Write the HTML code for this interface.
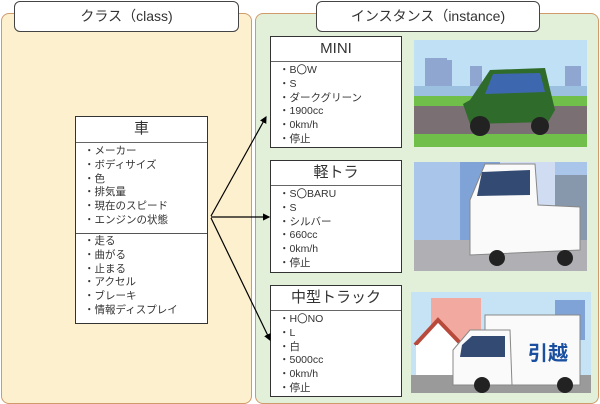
<!DOCTYPE html>
<html><head><meta charset="utf-8"><style>
body{margin:0;width:600px;height:404px;background:#fff;position:relative;overflow:hidden;font-family:"Liberation Sans","Noto Sans CJK JP",sans-serif;color:#333}
.abs{position:absolute;box-sizing:border-box}
.panel{border:1.5px solid #d09a6a;border-radius:8px}
.title{background:#fff;border:1.2px solid #444;border-radius:6px;text-align:center;font-size:14px;line-height:29px}
.box{background:#fff;border:1.3px solid #333}
.hd{text-align:center;font-size:15px;border-bottom:1.3px solid #666}
.ls{font-size:10.5px;line-height:13.8px;padding-left:8px;white-space:nowrap}
</style></head><body>
<div class="abs panel" style="left:1px;top:13px;width:251px;height:391px;background:#fdf0cf"></div>
<div class="abs panel" style="left:255px;top:13px;width:344px;height:391px;background:#e2efd9"></div>
<div class="abs title" style="left:14px;top:1px;width:225px;height:31px">クラス（class)</div>
<div class="abs title" style="left:316px;top:1px;width:224px;height:31px">インスタンス（instance)</div>

<div class="abs box" style="left:75px;top:116px;width:133px;height:208px">
<div class="hd" style="height:25px;line-height:24px">車</div>
<div class="ls" style="padding-top:2px;height:88px;border-bottom:1.3px solid #555">・メーカー<br>・ボディサイズ<br>・色<br>・排気量<br>・現在のスピード<br>・エンジンの状態</div>
<div class="ls" style="padding-top:1px">・走る<br>・曲がる<br>・止まる<br>・アクセル<br>・ブレーキ<br>・情報ディスプレイ</div>
</div>

<div class="abs box" style="left:270px;top:36px;width:132px;height:112px">
<div class="hd" style="height:24px;line-height:23px">MINI</div>
<div class="ls" style="padding-top:2px">・B〇W<br>・S<br>・ダークグリーン<br>・1900cc<br>・0km/h<br>・停止</div></div>
<div class="abs box" style="left:270px;top:160px;width:132px;height:113px">
<div class="hd" style="height:24px;line-height:23px">軽トラ</div>
<div class="ls" style="padding-top:2px">・S〇BARU<br>・S<br>・シルバー<br>・660cc<br>・0km/h<br>・停止</div></div>
<div class="abs box" style="left:270px;top:285px;width:132px;height:112px">
<div class="hd" style="height:24px;line-height:23px">中型トラック</div>
<div class="ls" style="padding-top:2px">・H〇NO<br>・L<br>・白<br>・5000cc<br>・0km/h<br>・停止</div></div>

<svg class="abs" style="left:0;top:0" width="600" height="404">
<defs><marker id="a" markerWidth="6" markerHeight="6" refX="5" refY="3" orient="auto"><path d="M0,0L6,3L0,6z" fill="#000"/></marker></defs>
<g stroke="#000" stroke-width="1.2" fill="none" marker-end="url(#a)">
<line x1="211" y1="216" x2="266" y2="117"/>
<line x1="211" y1="217" x2="269" y2="217"/>
<line x1="211" y1="218" x2="270" y2="340"/>
</g>
<!-- image 1 -->
<rect x="414" y="40" width="173" height="107" fill="#bfe0f5"/>
<rect x="425" y="58" width="22" height="30" fill="#8fa6d0"/><rect x="440" y="60" width="12" height="28" fill="#8fa6d0"/>
<rect x="470" y="66" width="12" height="22" fill="#8fa6d0"/><rect x="565" y="66" width="16" height="22" fill="#8fa6d0"/>
<rect x="414" y="86" width="173" height="12" fill="#9cc0e0"/>
<rect x="414" y="96" width="173" height="10" fill="#6fbf4a"/>
<rect x="414" y="106" width="173" height="30" fill="#7a6f72"/>
<rect x="414" y="134" width="173" height="13" fill="#6fbf4a"/>
<path d="M463,104 L470,100 L490,70 L545,68 L555,110 L548,122 L470,124 Z" fill="#2f6b2a"/>
<path d="M493,74 L540,73 L545,92 L485,94 Z" fill="#3d68b0"/>
<circle cx="480" cy="126" r="10" fill="#222"/><circle cx="540" cy="126" r="9" fill="#222"/>
<!-- image 2 -->
<rect x="414" y="162" width="173" height="109" fill="#a9c6ea"/>
<rect x="460" y="162" width="40" height="80" fill="#7fa3d6"/><rect x="500" y="162" width="55" height="80" fill="#cfdcf2"/>
<rect x="555" y="175" width="32" height="70" fill="#8798ad"/>
<rect x="414" y="240" width="173" height="31" fill="#b0b0b4"/>
<path d="M470,200 L485,164 L535,164 L538,205 L580,207 L580,250 L470,255 Z" fill="#fafafa" stroke="#888"/>
<path d="M482,172 L530,170 L530,195 L477,196 Z" fill="#334a72"/>
<circle cx="497" cy="258" r="8" fill="#222"/><circle cx="565" cy="258" r="8" fill="#222"/>
<!-- image 3 -->
<rect x="411" y="292" width="180" height="101" fill="#c6e2f5"/>
<rect x="431" y="298" width="50" height="60" fill="#f2aaa0"/><rect x="555" y="300" width="30" height="40" fill="#7fa3d6"/>
<path d="M415,345 L438,320 L462,345" fill="#fff" stroke="#b84a3c" stroke-width="4"/>
<rect x="416" y="345" width="45" height="35" fill="#fff"/>
<rect x="411" y="375" width="180" height="18" fill="#9a9a9a"/>
<rect x="485" y="315" width="95" height="70" fill="#fafafa" stroke="#888"/>
<path d="M453,350 L470,330 L510,330 L512,385 L453,385 Z" fill="#fafafa" stroke="#888"/>
<path d="M462,345 L472,336 L505,336 L505,357 L460,357 Z" fill="#334a72"/>
<text x="528" y="360" font-size="20" font-weight="bold" fill="#1a4fa0" font-family="Noto Sans CJK JP,sans-serif">引越</text>
<circle cx="482" cy="385" r="8" fill="#222"/><circle cx="565" cy="385" r="8" fill="#222"/>
</svg>
</body></html>
